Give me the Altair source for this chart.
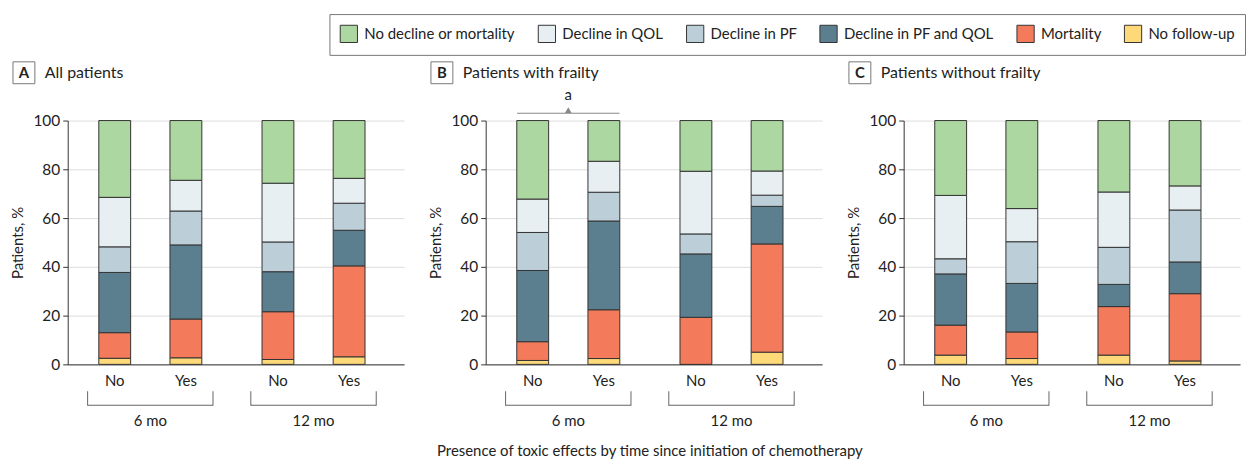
import altair as alt
import pandas as pd

# ---------------- data ----------------
legend_order = ["No decline or mortality", "Decline in QOL", "Decline in PF",
                "Decline in PF and QOL", "Mortality", "No follow-up"]
stack_order = ["No follow-up", "Mortality", "Decline in PF and QOL",
               "Decline in PF", "Decline in QOL", "No decline or mortality"]
palette = ["#acd7a0", "#e8eff2", "#bccfd8", "#5b7f8f", "#f37a5a", "#fdd97a"]

times = ["6 mo", "12 mo"]
toxic = ["No", "Yes"]
bar_time = ["6 mo", "6 mo", "12 mo", "12 mo"]
bar_toxic = ["No", "Yes", "No", "Yes"]

panel_letters = ["A", "B", "C"]
panel_titles = ["All patients", "Patients with frailty", "Patients without frailty"]

# values per bar, in order: 6 mo-No, 6 mo-Yes, 12 mo-No, 12 mo-Yes
a_no_followup = [2.5, 2.7, 2.0, 3.1]
a_mortality = [10.5, 15.9, 19.6, 37.3]
a_pf_qol = [24.7, 30.4, 16.4, 14.6]
a_pf = [10.5, 13.9, 12.2, 11.1]
a_qol = [20.3, 12.6, 24.1, 10.2]
a_no_decline = [31.5, 24.5, 25.7, 23.7]

b_no_followup = [1.6, 2.4, 0.0, 5.0]
b_mortality = [7.7, 20.0, 19.3, 44.4]
b_pf_qol = [29.2, 36.4, 26.0, 15.4]
b_pf = [15.6, 11.8, 8.2, 4.6]
b_qol = [13.7, 12.7, 25.7, 9.9]
b_no_decline = [32.2, 16.7, 20.8, 20.7]

c_no_followup = [3.8, 2.4, 3.8, 1.4]
c_mortality = [12.3, 10.9, 19.9, 27.6]
c_pf_qol = [21.0, 19.9, 9.1, 13.0]
c_pf = [6.2, 17.1, 15.2, 21.3]
c_qol = [26.0, 13.6, 22.7, 9.9]
c_no_decline = [30.7, 36.1, 29.3, 26.8]

annotation_label = "a"
x_title = "Presence of toxic effects by time since initiation of chemotherapy"

panel_values = [
    [a_no_followup, a_mortality, a_pf_qol, a_pf, a_qol, a_no_decline],
    [b_no_followup, b_mortality, b_pf_qol, b_pf, b_qol, b_no_decline],
    [c_no_followup, c_mortality, c_pf_qol, c_pf, c_qol, c_no_decline],
]

# ---------------- layout ----------------
W, H = 338, 245
FONT = "Lato"
TXT = "#222222"

xscale = alt.Scale(domain=times, paddingInner=0.2317, paddingOuter=0.1463, align=0.4167)
xaxis = alt.Axis(title=None, domainColor="#333333", domainWidth=1, ticks=False, tickSize=0,
                 labelPadding=49, labelFontSize=15, labelColor=TXT, labelAngle=0, grid=False)
xoscale = alt.Scale(domain=toxic, paddingInner=0.5524, paddingOuter=0.1573)

yaxis = alt.Axis(title="Patients, %", values=[0, 20, 40, 60, 80, 100], grid=True,
                 gridColor="#dddddd", domainColor="#333333", tickColor="#333333",
                 tickSize=5, labelFontSize=15.5, titleFontSize=15, titleFontWeight="normal",
                 labelPadding=3, titlePadding=7, labelColor=TXT, titleColor=TXT)

legend = alt.Legend(title=None, orient="none", legendX=263, legendY=-107,
                    direction="horizontal", columns=6, symbolType="square",
                    symbolSize=300, symbolStrokeColor="#333333", symbolStrokeWidth=1,
                    symbolOpacity=1, labelFontSize=15, labelColor=TXT,
                    strokeColor="#777777", padding=10, columnPadding=20, labelOffset=6)


def xenc(**kw):
    return alt.X("time:N", scale=xscale, axis=xaxis, sort=times, **kw)


def make_panel(i, annotate=False):
    rows = []
    vals = panel_values[i]
    for k, cat in enumerate(stack_order):
        for j in range(4):
            rows.append({"time": bar_time[j], "toxic": bar_toxic[j], "category": cat,
                         "value": vals[k][j], "order": k})
    df = pd.DataFrame(rows)

    bars = alt.Chart(df).mark_bar(stroke="#333333", strokeWidth=1).encode(
        x=xenc(),
        xOffset=alt.XOffset("toxic:N", scale=xoscale, sort=toxic),
        y=alt.Y("value:Q", stack="zero", scale=alt.Scale(domain=[0, 100], nice=False), axis=yaxis),
        color=alt.Color("category:N", scale=alt.Scale(domain=legend_order, range=palette),
                        legend=legend, sort=legend_order),
        order=alt.Order("order:Q", sort="ascending"),
    )

    df_lab = pd.DataFrame({"time": bar_time, "toxic": bar_toxic})
    labels = alt.Chart(df_lab).mark_text(fontSize=15, color=TXT).encode(
        x=xenc(),
        xOffset=alt.XOffset("toxic:N", scale=xoscale, sort=toxic),
        y=alt.value(H + 17),
        text="toxic:N",
    )

    df_br = pd.DataFrame({"time": times})
    br_h = alt.Chart(df_br).mark_bar(color="#666666").encode(
        x=xenc(), y=alt.value(H + 40.5), y2=alt.value(H + 41.5))
    br_l = alt.Chart(df_br).mark_rule(color="#666666", strokeWidth=1).encode(
        x=xenc(bandPosition=0), y=alt.value(H + 27), y2=alt.value(H + 41.5))
    br_r = alt.Chart(df_br).mark_rule(color="#666666", strokeWidth=1).encode(
        x=xenc(bandPosition=1), y=alt.value(H + 27), y2=alt.value(H + 41.5))

    df_t = pd.DataFrame({"letter": [panel_letters[i]], "title": [panel_titles[i]]})
    box = alt.Chart(df_t).mark_rect(fill="white", stroke="#777777", strokeWidth=1).encode(
        x=alt.value(-55), x2=alt.value(-33), y=alt.value(-59), y2=alt.value(-37))
    letter = alt.Chart(df_t).mark_text(fontSize=15, fontWeight="bold", color=TXT).encode(
        x=alt.value(-44), y=alt.value(-48), text="letter:N")
    title = alt.Chart(df_t).mark_text(fontSize=16, align="left", color=TXT).encode(
        x=alt.value(-23), y=alt.value(-48), text="title:N")

    layers = [bars, labels, br_h, br_l, br_r, box, letter, title]

    if annotate:
        df_an = pd.DataFrame({"time": [times[0]], "label": [annotation_label]})
        an_line = alt.Chart(df_an).mark_bar(color="#888888",
                                            width=alt.RelativeBandSize(band=0.817)).encode(
            x=xenc(), y=alt.value(-7.8), y2=alt.value(-6.8))
        an_tri = alt.Chart(df_an).mark_point(shape="triangle-up", filled=True, color="#888888",
                                             size=45, opacity=1).encode(
            x=xenc(), y=alt.value(-10.5))
        an_txt = alt.Chart(df_an).mark_text(fontSize=15, color=TXT).encode(
            x=xenc(), y=alt.value(-26), text="label:N")
        df_xt = pd.DataFrame({"label": [x_title]})
        xt = alt.Chart(df_xt).mark_text(fontSize=15, color=TXT).encode(
            x=alt.value(W / 2 - 4), y=alt.value(H + 87), text="label:N")
        layers += [an_line, an_tri, an_txt, xt]

    return alt.layer(*layers).properties(width=W, height=H)


chart = alt.hconcat(
    make_panel(0), make_panel(1, annotate=True), make_panel(2),
    spacing=82, bounds="flush",
).resolve_scale(
    color="shared", x="independent", xOffset="independent", y="independent"
).properties(
    padding={"left": 3, "top": 4, "right": 0, "bottom": 0},
).configure(
    font=FONT
).configure_view(
    stroke=None
)

chart.save("out.html", embed_options={"renderer": "svg", "actions": False})
